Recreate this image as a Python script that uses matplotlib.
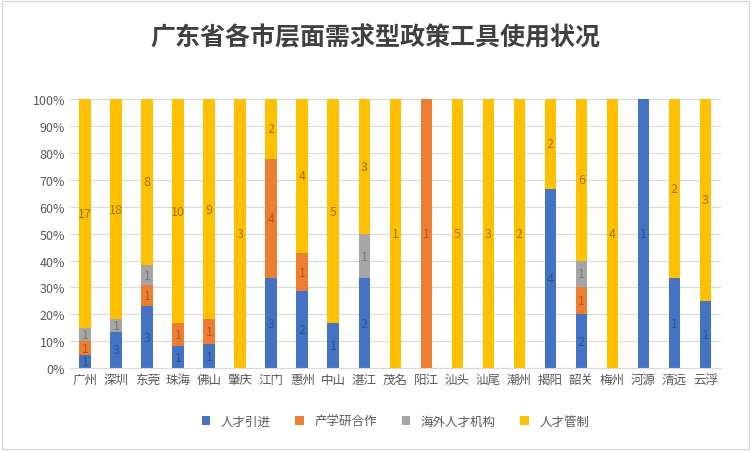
import matplotlib
matplotlib.use("Agg")
import matplotlib.pyplot as plt
from matplotlib.ticker import PercentFormatter
import numpy as np

plt.rcParams["font.family"] = ["Noto Sans CJK JP", "Noto Sans CJK SC", "Noto Sans CJK TC", "DejaVu Sans"]

cities = ["广州", "深圳", "东莞", "珠海", "佛山", "肇庆", "江门", "惠州", "中山", "湛江", "茂名",
          "阳江", "汕头", "汕尾", "潮州", "揭阳", "韶关", "梅州", "河源", "清远", "云浮"]
talent_intro = [1, 3, 3, 1, 1, 0, 3, 2, 1, 2, 0, 0, 0, 0, 0, 4, 2, 0, 1, 1, 1]
industry_univ = [1, 0, 1, 1, 1, 0, 4, 1, 0, 0, 0, 1, 0, 0, 0, 0, 1, 0, 0, 0, 0]
overseas_inst = [1, 1, 1, 0, 0, 0, 0, 0, 0, 1, 0, 0, 0, 0, 0, 0, 1, 0, 0, 0, 0]
talent_ctrl = [17, 18, 8, 10, 9, 3, 2, 4, 5, 3, 1, 0, 5, 3, 2, 2, 6, 4, 0, 2, 3]

series = [
    ("人才引进", talent_intro, "#4472C4", "#2F528F"),
    ("产学研合作", industry_univ, "#ED7D31", "#AE5A21"),
    ("海外人才机构", overseas_inst, "#A5A5A5", "#7B7B7B"),
    ("人才管制", talent_ctrl, "#FFC000", "#9C7500"),
]

data = np.array([s[1] for s in series], dtype=float)
totals = data.sum(axis=0)
pct = data / totals * 100

fig = plt.figure(figsize=(7.51, 4.52), dpi=100)
ax = fig.add_axes([0.093, 0.183, 0.867, 0.596])
x = np.arange(len(cities))
bottom = np.zeros(len(cities))
for (name, vals, color, tcolor), p in zip(series, pct):
    ax.bar(x, p, 0.38, bottom=bottom, color=color, label=name)
    for i, v in enumerate(vals):
        if v:
            ax.text(x[i], bottom[i] + p[i] / 2, str(v), ha="center", va="center",
                    fontsize=9, color=tcolor)
    bottom += p

ax.set_ylim(0, 100)
ax.set_xlim(-0.5, len(cities) - 0.5)
ax.set_yticks(np.arange(0, 101, 10))
ax.yaxis.set_major_formatter(PercentFormatter(decimals=0))
ax.set_xticks(x)
ax.set_xticklabels(cities)
ax.tick_params(axis="both", length=0, labelsize=9, colors="#595959")
ax.grid(axis="y", color="#D9D9D9", linewidth=0.8)
ax.set_axisbelow(True)
for side in ["top", "right", "left"]:
    ax.spines[side].set_visible(False)
ax.spines["bottom"].set_color("#D9D9D9")

fig.text(0.5, 0.915, "广东省各市层面需求型政策工具使用状况", ha="center", va="center",
         fontsize=18, color="#404040", fontweight="bold")
ax.legend(loc="upper center", bbox_to_anchor=(0.5, -0.13), ncol=4, frameon=False,
          fontsize=9, handlelength=0.7, handleheight=0.7, labelcolor="#595959")

fig.patches.append(plt.Rectangle((0.003, 0.005), 0.994, 0.99, transform=fig.transFigure,
                                 fill=False, edgecolor="#D9D9D9", linewidth=1))
fig.savefig("out.png", dpi=100)
